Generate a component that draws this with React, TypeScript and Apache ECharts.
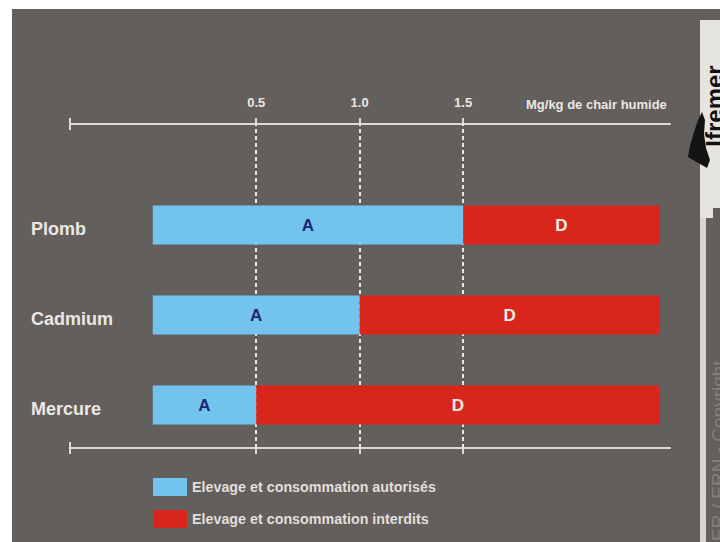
import React, { useEffect, useRef } from 'react';
import * as echarts from 'echarts';

const categories = ['Plomb', 'Cadmium', 'Mercure'];
const authorisedValues = [1.5, 1.0, 0.5];
const forbiddenValues = [0.95, 1.45, 1.95];
const thresholdTicks = [0.5, 1.0, 1.5];
const axisTickValues = [-0.4, 0.5, 1.0, 1.5];
const axisEndTicks = [-0.4];
const seriesNames = ['Elevage et consommation autorisés', 'Elevage et consommation interdits'];
const segmentLabels = ['A', 'D'];
const unitLabel = 'Mg/kg de chair humide';
const logoText = 'Ifremer';
const copyrightText = 'IFREMER / ERN - Copyright';

const AXIS_MIN = -0.4;
const AXIS_MAX = 2.5;
const BG = '#635f5c';
const LINE = '#dcd8d3';
const TEXT = '#ebe7e3';
const BLUE = '#73c3ef';
const RED = '#d8261d';
const FONT = "'Liberation Sans', Arial, Helvetica, sans-serif";

export default function App() {
  const ref = useRef<HTMLDivElement>(null);
  useEffect(() => {
    if (!ref.current) return;
    const chart = echarts.init(ref.current, undefined, { renderer: 'svg' });
    const gridLeft = 70;
    const gridRight = 50;
    const tickStyle = { color: LINE, width: 2 };
    const option: any = {
      animation: false,
      backgroundColor: BG,
      textStyle: { fontFamily: FONT },
      grid: [
        { left: gridLeft, right: gridRight, top: 124, bottom: 94 },
        { left: gridLeft, right: gridRight, top: 180, height: 270 },
        { left: gridLeft, right: gridRight, top: 184, height: 270 },
      ],
      xAxis: [
        {
          gridIndex: 0, type: 'value', position: 'top', min: AXIS_MIN, max: AXIS_MAX,
          axisLine: { show: true, onZero: false, lineStyle: { color: LINE, width: 2 } },
          axisTick: { show: true, customValues: axisTickValues, length: 6, lineStyle: tickStyle },
          axisLabel: {
            show: true, customValues: thresholdTicks, margin: 15,
            formatter: (v: number) => v.toFixed(1),
            color: TEXT, fontSize: 13, fontWeight: 'bold', fontFamily: FONT,
          },
          splitLine: { show: false },
        },
        {
          gridIndex: 0, type: 'value', position: 'top', min: AXIS_MIN, max: AXIS_MAX,
          axisLine: { show: false, onZero: false },
          axisTick: { show: true, inside: true, customValues: axisEndTicks, length: 6, lineStyle: tickStyle },
          axisLabel: { show: false },
          splitLine: { show: false },
        },
        {
          gridIndex: 0, type: 'value', position: 'bottom', min: AXIS_MIN, max: AXIS_MAX,
          axisLine: { show: true, onZero: false, lineStyle: { color: LINE, width: 2 } },
          axisTick: { show: true, customValues: axisTickValues, length: 6, lineStyle: tickStyle },
          axisLabel: { show: false },
          splitLine: { show: false },
        },
        {
          gridIndex: 0, type: 'value', position: 'bottom', min: AXIS_MIN, max: AXIS_MAX,
          axisLine: { show: false, onZero: false },
          axisTick: { show: true, inside: true, customValues: axisEndTicks, length: 6, lineStyle: tickStyle },
          axisLabel: { show: false },
          splitLine: { show: false },
        },
        {
          gridIndex: 1, type: 'value', min: AXIS_MIN, max: AXIS_MAX, show: false,
          splitLine: { show: false },
        },
        {
          gridIndex: 2, type: 'value', min: AXIS_MIN, max: AXIS_MAX, show: false,
          splitLine: { show: false },
        },
      ],
      yAxis: [
        { gridIndex: 0, type: 'value', min: 0, max: 1, show: false, splitLine: { show: false } },
        {
          gridIndex: 1, type: 'category', data: categories, inverse: true,
          axisLine: { show: false }, axisTick: { show: false }, splitLine: { show: false },
          axisLabel: { show: false },
        },
        {
          gridIndex: 2, type: 'category', data: categories, inverse: true,
          axisLine: { show: false }, axisTick: { show: false }, splitLine: { show: false },
          axisLabel: {
            align: 'left', verticalAlign: 'middle', margin: gridLeft - 31, color: TEXT, fontSize: 18,
            fontWeight: 'bold', fontFamily: FONT,
          },
        },
      ],
      legend: {
        data: seriesNames, orient: 'vertical', left: 148, top: 473,
        icon: 'rect', itemWidth: 34, itemHeight: 18, itemGap: 14, selectedMode: false,
        textStyle: { color: '#e2deda', fontSize: 14.3, fontWeight: 'bold', fontFamily: FONT },
      },
      series: [
        {
          type: 'line', xAxisIndex: 0, yAxisIndex: 0, data: [], z: 1, silent: true,
          markLine: {
            silent: true, z: 1, symbol: ['none', 'none'], label: { show: false },
            lineStyle: { color: '#ebe7e3', width: 2, type: [4, 3] },
            data: thresholdTicks.map((v) => ({ xAxis: v })),
          },
        },
        {
          name: seriesNames[0], type: 'bar', stack: 'total', xAxisIndex: 4, yAxisIndex: 1,
          data: authorisedValues, barWidth: 39, z: 3,
          itemStyle: { color: BLUE },
          label: { show: true, position: 'inside', formatter: segmentLabels[0], color: '#1d2776', fontSize: 17, fontWeight: 'bold', fontFamily: FONT },
        },
        {
          name: seriesNames[1], type: 'bar', stack: 'total', xAxisIndex: 4, yAxisIndex: 1,
          data: forbiddenValues, barWidth: 39, z: 3,
          itemStyle: { color: RED },
          label: { show: true, position: 'inside', formatter: segmentLabels[1], color: '#f4ede6', fontSize: 17, fontWeight: 'bold', fontFamily: FONT },
        },
      ],
      graphic: [
        { type: 'rect', shape: { x: 0, y: 0, width: 720, height: 9 }, style: { fill: '#ffffff' }, silent: true },
        { type: 'rect', shape: { x: 0, y: 0, width: 12, height: 542 }, style: { fill: '#ffffff' }, silent: true },
        {
          type: 'text', x: 526, y: 104,
          style: { text: unitLabel, fill: TEXT, font: `bold 13px ${FONT}`, textAlign: 'left', textVerticalAlign: 'middle' },
          silent: true,
        },
        { type: 'rect', shape: { x: 700, y: 208, width: 6, height: 334 }, style: { fill: '#d9d5d0' }, silent: true },
        { type: 'rect', shape: { x: 700, y: 20, width: 20, height: 188 }, style: { fill: '#e6e4e0' }, silent: true },
        { type: 'rect', shape: { x: 700, y: 200, width: 13, height: 18 }, style: { fill: '#e6e4e0' }, silent: true },
        {
          type: 'polygon',
          shape: { points: [[702, 112], [705, 120], [704, 134], [706, 148], [710, 160], [707, 168], [700, 164], [693, 160], [688, 157], [690, 146], [694, 132], [698, 120]] },
          style: { fill: '#141414' }, silent: true,
        },
        {
          type: 'text', x: 726, y: 106, rotation: Math.PI / 2,
          style: { text: logoText, fill: '#111111', font: `bold 24px ${FONT}`, textAlign: 'center', textVerticalAlign: 'bottom' },
          silent: true,
        },
        {
          type: 'text', x: 728, y: 600, rotation: Math.PI / 2,
          style: { text: copyrightText, fill: '#85807b', font: `19px ${FONT}`, textAlign: 'left', textVerticalAlign: 'bottom' },
          silent: true,
        },
      ],
    };
    chart.setOption(option);
    return () => chart.dispose();
  }, []);
  return <div ref={ref} style={{ position: 'absolute', left: 0, top: 0, width: 720, height: 542 }} />;
}
